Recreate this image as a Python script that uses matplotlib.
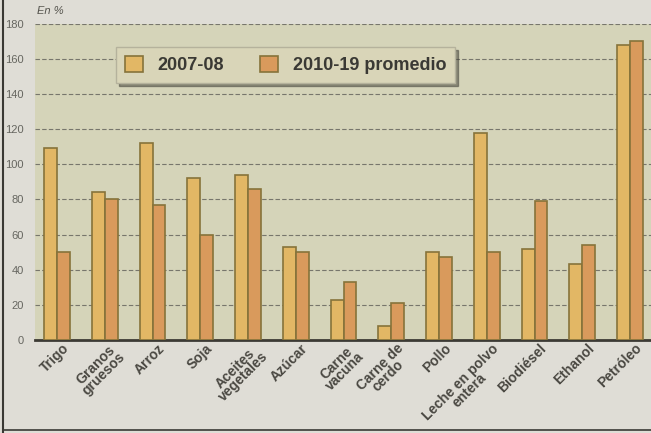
import numpy as np
import matplotlib.pyplot as plt
from matplotlib.lines import Line2D

# data (percent)
productos = ['Trigo', 'Granos\ngruesos', 'Arroz', 'Soja', 'Aceites\nvegetales', 'Azúcar',
             'Carne\nvacuna', 'Carne de\ncerdo', 'Pollo', 'Leche en polvo\nentera',
             'Biodiésel', 'Ethanol', 'Petróleo']
v_2007_08 = [109, 84, 112, 92, 94, 53, 23, 8, 50, 118, 52, 43, 168]
v_2010_19 = [50, 80, 77, 60, 86, 50, 33, 21, 47, 50, 79, 54, 170]
y_ticks = [0, 20, 40, 60, 80, 100, 120, 140, 160, 180]

plt.rcParams['font.family'] = ['Liberation Sans Narrow', 'Liberation Sans', 'DejaVu Sans']

fig = plt.figure(figsize=(6.51, 4.33), dpi=100)
fig.patch.set_facecolor('#dfddd6')
ax = fig.add_axes([0.054, 0.215, 0.946, 0.73])
ax.set_facecolor('#d5d4b9')

x = np.arange(len(productos))
w = 0.27
ax.bar(x - w / 2, v_2007_08, w, color='#e2b765', edgecolor='#86733a', linewidth=1.2,
       label='2007-08', zorder=3)
ax.bar(x + w / 2, v_2010_19, w, color='#d99a5c', edgecolor='#86733a', linewidth=1.2,
       label='2010-19 promedio', zorder=3)

ax.set_xlim(-0.46, 12.44)
ax.set_ylim(0, 180)
ax.set_yticks(y_ticks)
ax.tick_params(axis='y', length=0, pad=8, labelsize=8, labelcolor='#666660')
ax.tick_params(axis='x', length=0, pad=1)
ax.yaxis.grid(True, linestyle=(0, (4, 2)), color='#77766c', linewidth=0.8, zorder=0)
for s in ['top', 'right', 'left']:
    ax.spines[s].set_visible(False)
ax.spines['bottom'].set_linewidth(2)
ax.spines['bottom'].set_color('#3c3a34')

ax.set_xticks(x + 0.1)
ax.set_xticklabels(productos, rotation=45, ha='right', rotation_mode='anchor',
                   fontsize=10, fontweight='bold', color='#4a4842',
                   multialignment='center', linespacing=0.8)

fig.text(0.057, 0.975, 'En %', fontsize=8, style='italic', color='#55544e', va='center')

leg = ax.legend(loc='upper left', bbox_to_anchor=(0.117, 0.955), ncol=2, frameon=True,
                fancybox=False, shadow=True, prop={'weight': 'bold', 'size': 13},
                handlelength=1.0, handleheight=1.0, columnspacing=2.0, borderpad=0.5,
                handletextpad=0.8, labelcolor='#3a3934')
leg.get_frame().set_facecolor('#d9d5b8')
leg.get_frame().set_edgecolor('#b5b29c')

# frame of the printed box
fig.add_artist(Line2D([0.005, 0.005], [0, 1], color='#3a3934', linewidth=1.5))
fig.add_artist(Line2D([0.005, 1], [0.006, 0.006], color='#3a3934', linewidth=1.2))

fig.savefig('out.png', dpi=100)
